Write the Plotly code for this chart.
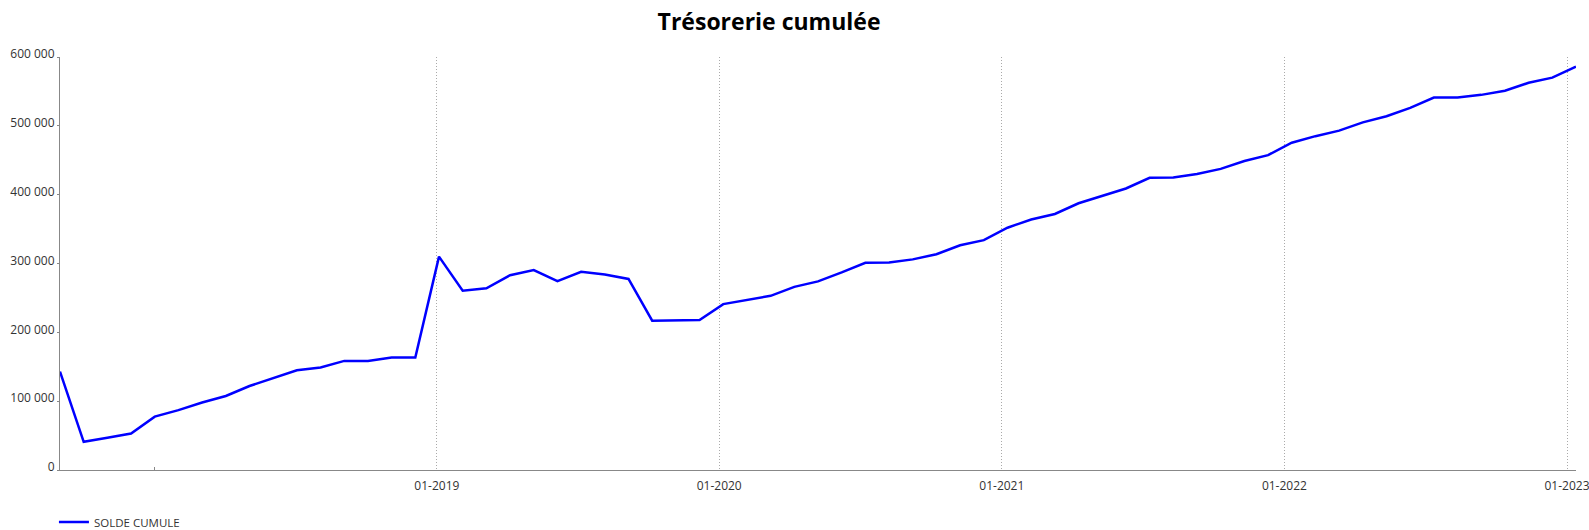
import plotly.graph_objects as go
import pandas as pd

# Monthly categories (09-2017 .. 01-2023)
months = [d.strftime("%m-%Y") for d in pd.date_range("2017-09-01", "2023-01-01", freq="MS")]

solde_cumule = [
    143000, 41000, 47000, 53000, 77500, 87000, 98000, 107500, 122000, 134000,
    145000, 149000, 158500, 158500, 163500, 163500, 310000, 260500, 264000, 283000,
    290500, 274500, 288000, 284000, 277500, 217000, 218000, 218000, 241000, 247000,
    253000, 266000, 274000, 287000, 301000, 301500, 306000, 313500, 326500, 334000,
    352000, 364000, 372000, 387500, 398000, 409000, 424500, 425000, 430000, 437500,
    449000, 457500, 475500, 485000, 493000, 505000, 514000, 526000, 541000, 541000,
    545000, 551000, 562500, 570000, 586000,
]

year_labels = ["01-2019", "01-2020", "01-2021", "01-2022", "01-2023"]
year_pos = [15.91, 27.83, 39.76, 51.69, 63.62]
minor_pos = [3.97]

y_ticks = [0, 100000, 200000, 300000, 400000, 500000, 600000]

x_idx = list(range(len(months)))

fig = go.Figure()
fig.add_trace(go.Scatter(
    x=x_idx, y=solde_cumule, mode="lines", name="SOLDE CUMULE",
    line=dict(color="#0000FF", width=2.5),
    customdata=months, hovertemplate="%{customdata}: %{y}<extra></extra>",
))

fig.update_layout(
    width=1589, height=530,
    margin=dict(l=60, r=13, t=57, b=60, autoexpand=False),
    paper_bgcolor="white", plot_bgcolor="white",
    font=dict(family="Open Sans", size=11, color="#333333"),
    separators=". ",
    title=dict(text="Trésorerie cumulée", x=0.484, xanchor="center", y=1 - 21.7 / 530,
               yanchor="middle", yref="container",
               font=dict(family="Open Sans", size=23, color="#000000", weight="bold")),
    showlegend=True,
    legend=dict(orientation="h", x=-0.004, xanchor="left", y=-0.126, yanchor="middle",
                font=dict(size=11.5, color="#333333"), bgcolor="rgba(0,0,0,0)"),
    xaxis=dict(
        range=[0, 64], tickmode="array", tickvals=year_pos, ticktext=year_labels,
        showgrid=True, gridcolor="#aaaaaa", griddash="1px,2px", gridwidth=1,
        showline=True, linecolor="#888888", linewidth=1, zeroline=False,
        ticks="", tickfont=dict(size=12, color="#333333"), automargin=False,
        ticklabeloverflow="allow", ticklabelstandoff=5,
        minor=dict(tickmode="array", tickvals=minor_pos, ticks="inside", ticklen=3,
                   tickcolor="#888888", showgrid=False),
    ),
    yaxis=dict(
        range=[0, 600000], tickmode="array", tickvals=y_ticks, tickformat=",d",
        showgrid=False, showline=True, linecolor="#888888", linewidth=1, zeroline=False,
        ticks="outside", ticklen=2, tickcolor="#888888", automargin=False,
        tickfont=dict(size=12, color="#333333"), ticklabelshift=-3, ticklabelstandoff=0,
    ),
)

fig.write_html("out.html", config={"displayModeBar": False},
               post_script="document.body.style.margin='0px';")
